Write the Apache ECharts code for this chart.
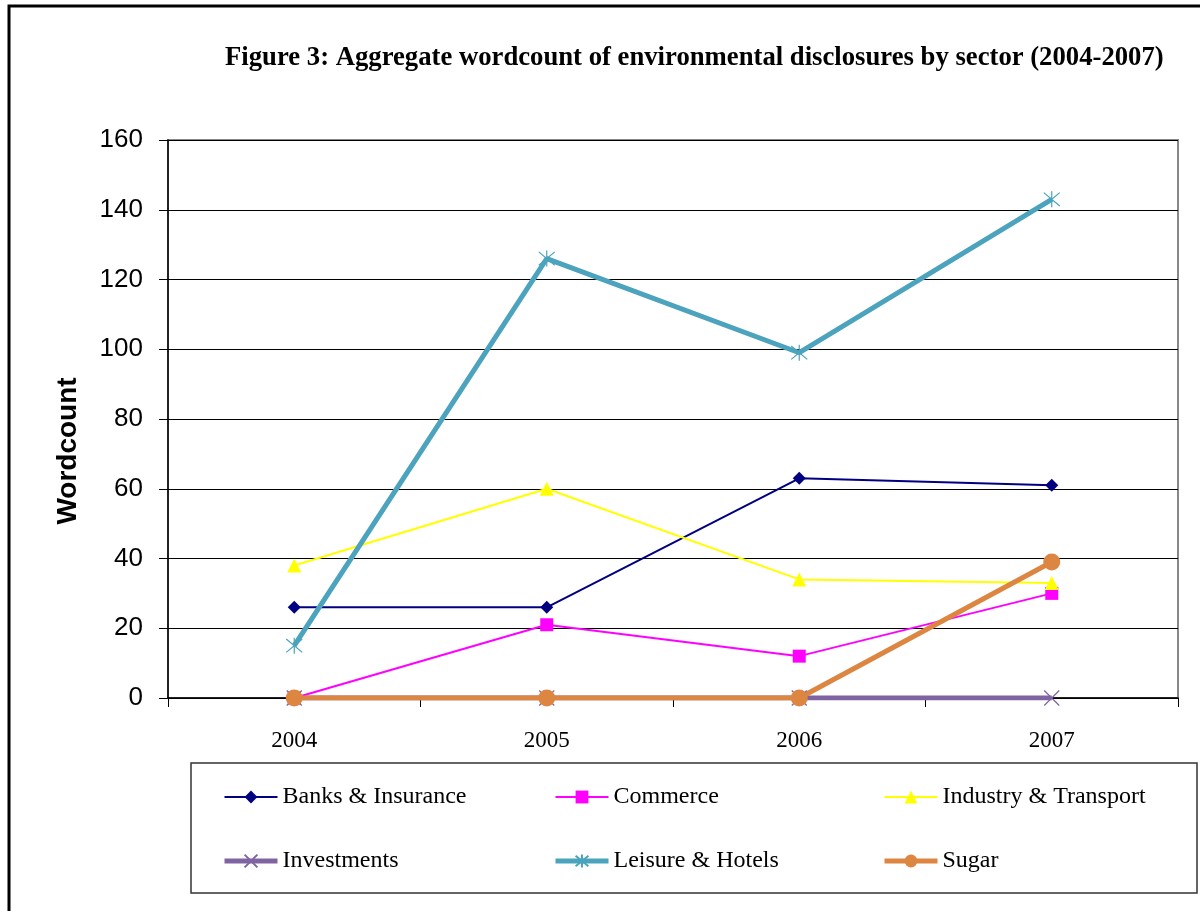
<!DOCTYPE html>
<html>
<head>
<meta charset="utf-8">
<script src="https://cdn.jsdelivr.net/npm/echarts@6/dist/echarts.min.js"></script>
<style>
  html, body { margin: 0; padding: 0; background: #fff; }
  #chart { width: 1200px; height: 911px; }
</style>
</head>
<body>
<div id="chart"></div>
<script>
(function () {
    'use strict';
    var years = ['2004', '2005', '2006', '2007'];
    var yTicks = [0, 20, 40, 60, 80, 100, 120, 140, 160];

    var banks = [26, 26, 63, 61];
    var commerce = [0, 21, 12, 30];
    var industry = [38, 60, 34, 33];
    var investments = [0, 0, 0, 0];
    var leisure = [15, 126, 99, 143];
    var sugar = [0, 0, 0, 39];

    var crossPath = 'path://M0,0L10,10M10,0L0,10';
    var starPath = 'path://M0,0L10,10M10,0L0,10M5,-1L5,11';

    var chart = echarts.init(document.getElementById('chart'));

    function line(name, data, color, width, symbol, size, stroke) {
        return {
            name: name,
            type: 'line',
            data: data,
            symbol: symbol,
            symbolSize: size,
            showAllSymbol: true,
            lineStyle: { color: color, width: width },
            itemStyle: stroke
                ? { color: 'transparent', borderColor: color, borderWidth: 1.2 }
                : { color: color, borderWidth: 0 },
            emphasis: { disabled: true },
            animation: false
        };
    }

    var serif = '"Liberation Serif", "Times New Roman", serif';
    var sans = '"Liberation Sans", Arial, sans-serif';

    function legend(left, names) {
        return {
            orient: 'vertical',
            left: left,
            top: 785,
            padding: 0,
            itemGap: 40,
            itemWidth: 53,
            itemHeight: 16,
            textStyle: { fontFamily: serif, fontSize: 24, lineHeight: 24, color: '#000' },
            data: names,
            selectedMode: false
        };
    }
    function thick(name) {
        return { name: name, lineStyle: { width: 5 } };
    }

    var option = {
        backgroundColor: '#fff',
        title: {
            text: 'Figure 3: Aggregate wordcount of environmental disclosures by sector (2004-2007)',
            left: 225,
            top: 45,
            padding: 0,
            textStyle: {
                fontFamily: serif,
                fontWeight: 'bold',
                fontSize: 26.7,
                color: '#000'
            }
        },
        graphic: [
            { type: 'rect', shape: { x: 9, y: 6, width: 1220, height: 940 }, style: { fill: 'none', stroke: '#000', lineWidth: 3 }, silent: true },
            { type: 'rect', shape: { x: 191, y: 763, width: 1006, height: 130 }, style: { fill: 'none', stroke: '#333', lineWidth: 1.5 }, silent: true },
            {
                type: 'text', x: 68, y: 451, rotation: Math.PI / 2, silent: true,
                style: {
                    text: 'Wordcount', fontFamily: sans, fontWeight: 'bold', fontSize: 28,
                    fill: '#000', align: 'center', verticalAlign: 'middle'
                }
            }
        ],
        legend: [
            legend(222, ['Banks & Insurance', thick('Investments')]),
            legend(553, ['Commerce', thick('Leisure & Hotels')]),
            legend(882, ['Industry & Transport', thick('Sugar')])
        ],
        grid: {
            left: 168, right: 22, top: 140, bottom: 213,
            show: true, borderColor: '#888', borderWidth: 2
        },
        xAxis: {
            type: 'category',
            data: years,
            boundaryGap: true,
            axisLine: { lineStyle: { color: '#000', width: 1.5 } },
            axisTick: { show: true, length: 9, lineStyle: { color: '#000' } },
            axisLabel: {
                margin: 31,
                fontFamily: serif,
                fontSize: 23,
                color: '#000'
            }
        },
        yAxis: {
            type: 'value',
            min: yTicks[0],
            max: yTicks[yTicks.length - 1],
            interval: 20,
            axisLine: { show: true, lineStyle: { color: '#000', width: 1.5 } },
            axisTick: { show: true, length: 9, lineStyle: { color: '#000' } },
            splitLine: { lineStyle: { color: '#000', width: 1 } },
            axisLabel: {
                margin: 25,
                fontFamily: sans,
                fontSize: 26,
                color: '#000'
            }
        },
        series: [
            line('Banks & Insurance', banks, '#000080', 2, 'diamond', 13),
            line('Commerce', commerce, '#FF00FF', 2, 'rect', 13),
            line('Industry & Transport', industry, '#FFFF00', 2, 'triangle', 14),
            line('Investments', investments, '#8064A2', 5, crossPath, 15, true),
            line('Leisure & Hotels', leisure, '#4BA3BD', 5, starPath, 16, true),
            line('Sugar', sugar, '#DD8642', 5, 'circle', 17)
        ]
    };

    chart.setOption(option);
})();
</script>
</body>
</html>
